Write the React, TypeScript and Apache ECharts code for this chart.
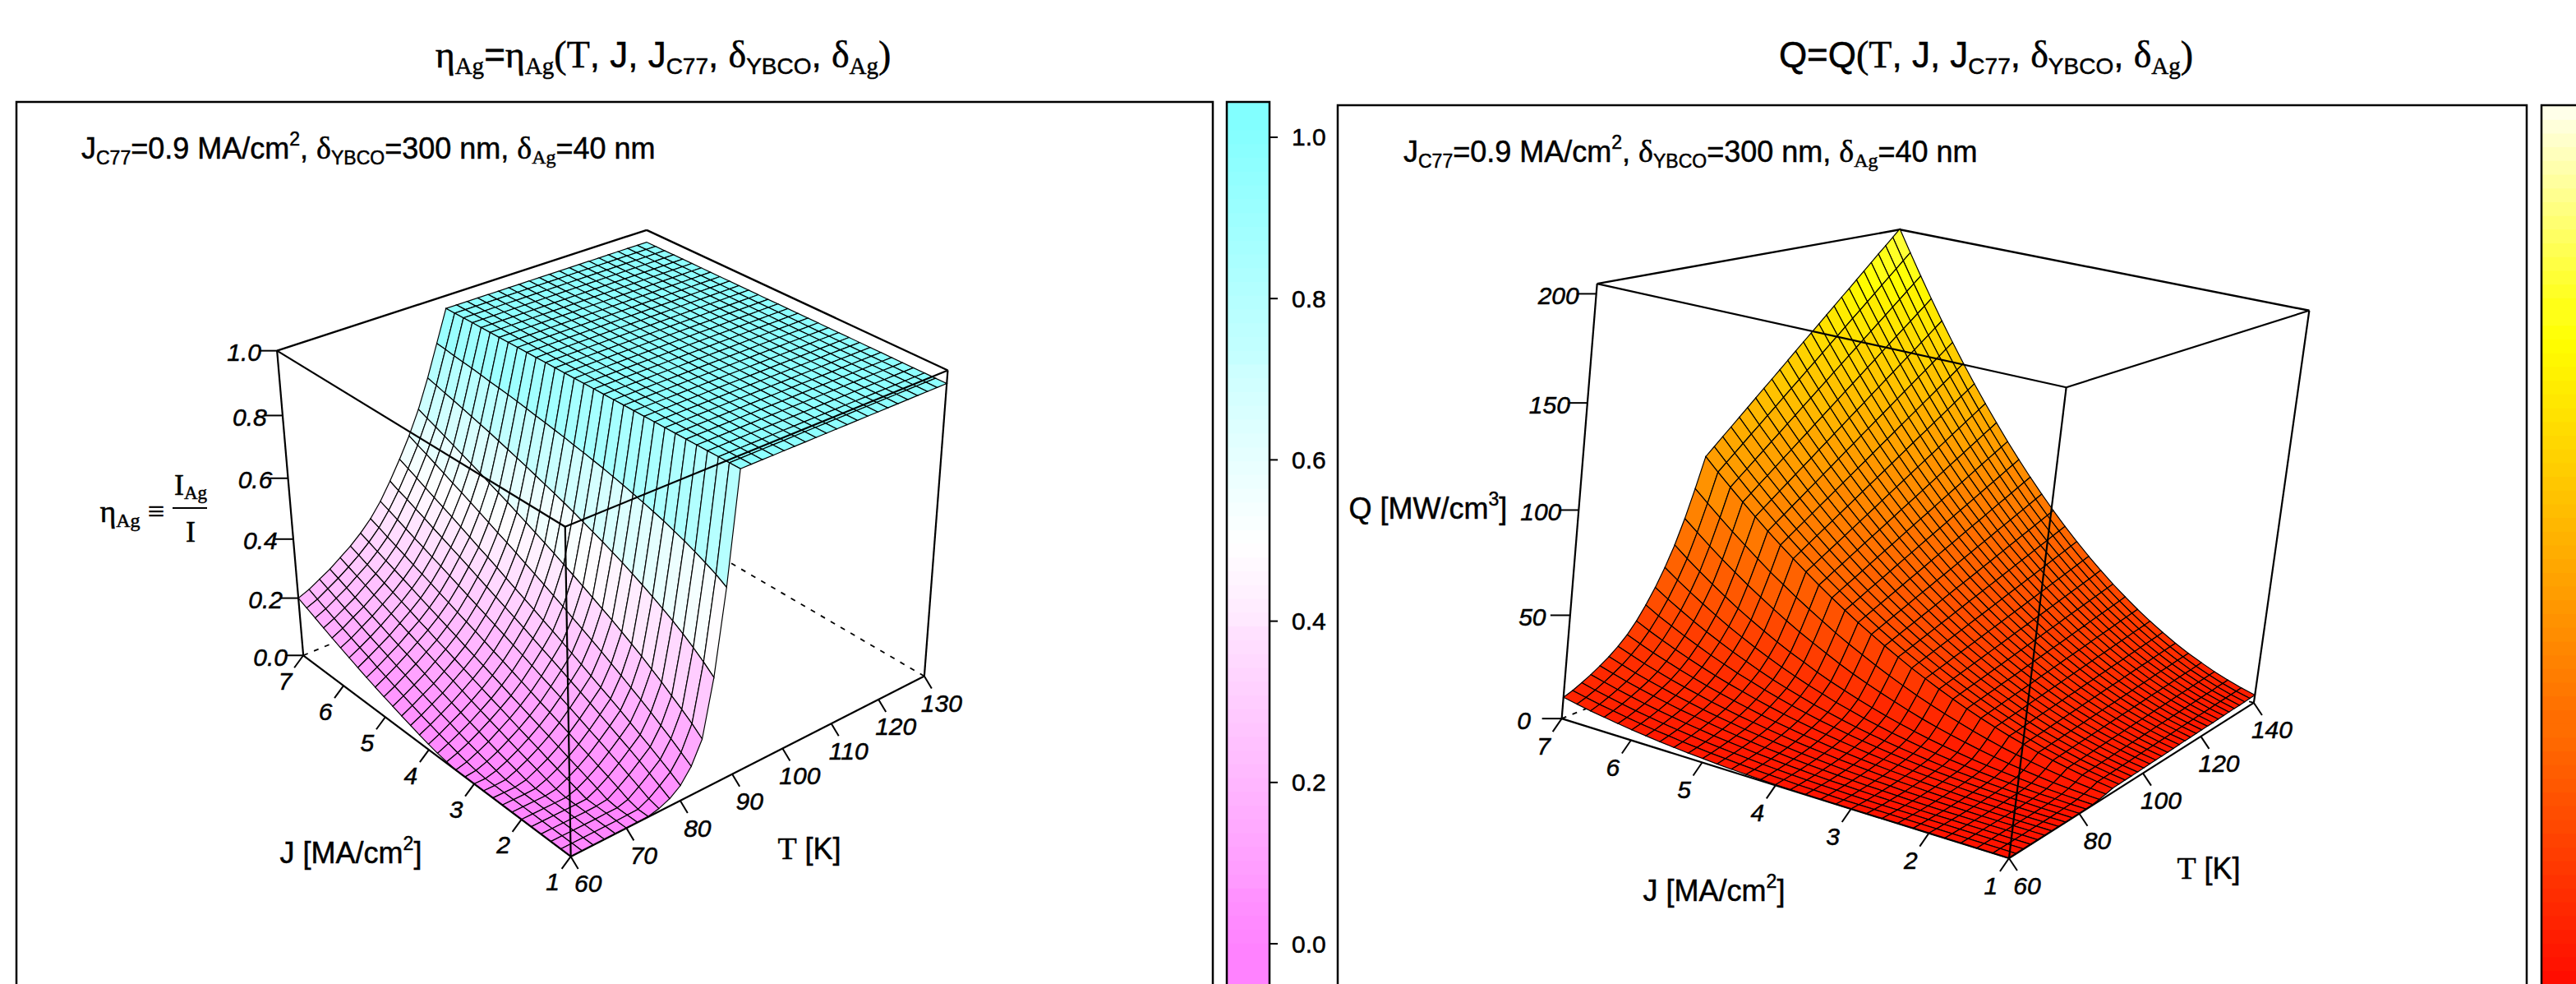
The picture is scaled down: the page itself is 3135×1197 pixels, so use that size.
import React, { useEffect, useRef } from "react";
import * as echarts from "echarts";

const jValues = [1, 1.2, 1.4, 1.6, 1.8, 2, 2.2, 2.4, 2.6, 2.8, 3, 3.2, 3.4, 3.6, 3.8, 4, 4.2, 4.4, 4.6, 4.8, 5, 5.2, 5.4, 5.6, 5.8, 6, 6.2, 6.4, 6.6, 6.8, 7];
const etaTemps = [60, 62, 64, 66, 68, 70, 72, 74, 76, 78, 80, 82, 84, 86, 88, 90, 92, 94, 96, 98, 100, 102, 104, 106, 108, 110, 112, 114, 116, 118, 120, 122, 124, 126, 128, 130];
const qTemps = [60, 62, 64, 66, 68, 70, 72, 74, 76, 78, 80, 82, 84, 86, 88, 90, 92, 94, 96, 98, 100, 102, 104, 106, 108, 110, 112, 114, 116, 118, 120, 122, 124, 126, 128, 130, 132, 134, 136, 138, 140];

// eta above Tc: the flat plateau, T = 90..130
const etaPlateau = [0.96, 0.96, 0.96, 0.96, 0.96, 0.96, 0.96, 0.96, 0.96, 0.96, 0.96, 0.96, 0.96, 0.96, 0.96, 0.96, 0.96, 0.96, 0.96, 0.96, 0.96];
// eta below Tc: one row per J, T = 60..88
const etaLow = [
  [0, 0, 0, 0, 0, 0, .001, .002, .010, .025, .051, .097, .170, .353, .620],
  [0, 0, 0, 0, 0, 0, .001, .002, .019, .044, .072, .120, .198, .381, .640],
  [0, 0, 0, 0, 0, .001, .001, .011, .035, .062, .091, .143, .222, .406, .656],
  [0, 0, 0, 0, 0, .001, .005, .026, .051, .080, .110, .164, .245, .429, .671],
  [0, 0, 0, 0, 0, .001, .018, .040, .067, .097, .128, .185, .268, .450, .685],
  [0, 0, 0, 0, 0, .011, .030, .053, .082, .113, .146, .205, .289, .469, .697],
  [0, 0, 0, 0, .005, .022, .042, .067, .097, .129, .164, .223, .310, .487, .709],
  [0, 0, 0, .001, .014, .032, .054, .080, .111, .145, .181, .242, .329, .504, .719],
  [0, 0, 0, .007, .024, .043, .066, .094, .126, .161, .197, .260, .348, .520, .729],
  [0, 0, .002, .016, .034, .055, .079, .107, .140, .176, .214, .278, .366, .536, .738],
  [0, 0, .009, .025, .044, .066, .091, .120, .154, .191, .231, .295, .383, .550, .747],
  [0, .004, .017, .034, .055, .077, .103, .132, .168, .206, .247, .312, .400, .564, .755],
  [0, .010, .026, .044, .066, .089, .115, .145, .181, .221, .263, .328, .417, .577, .763],
  [.005, .018, .035, .055, .077, .101, .127, .158, .195, .235, .279, .345, .433, .590, .770],
  [.011, .027, .045, .065, .088, .112, .140, .171, .209, .250, .294, .361, .449, .603, .777],
  [.019, .036, .056, .076, .099, .124, .152, .184, .222, .265, .310, .377, .465, .615, .783],
  [.028, .046, .066, .087, .111, .136, .164, .196, .236, .279, .325, .393, .480, .626, .790],
  [.038, .056, .077, .098, .123, .148, .176, .209, .249, .293, .340, .408, .495, .637, .796],
  [.048, .067, .088, .109, .134, .160, .188, .222, .262, .307, .355, .424, .510, .648, .802],
  [.059, .078, .099, .121, .146, .172, .201, .234, .275, .321, .371, .439, .524, .659, .807],
  [.070, .089, .111, .133, .158, .183, .213, .246, .288, .335, .386, .453, .539, .669, .813],
  [.081, .101, .122, .145, .170, .196, .225, .259, .301, .349, .400, .468, .552, .679, .819],
  [.093, .112, .134, .156, .182, .207, .237, .271, .314, .363, .415, .483, .566, .689, .824],
  [.105, .125, .146, .168, .194, .220, .249, .284, .327, .376, .430, .497, .580, .699, .829],
  [.118, .137, .158, .181, .206, .232, .262, .296, .339, .390, .445, .512, .593, .708, .833],
  [.131, .149, .171, .193, .218, .244, .274, .308, .352, .403, .459, .525, .606, .717, .838],
  [.144, .162, .184, .205, .230, .256, .286, .321, .364, .417, .473, .540, .619, .726, .843],
  [.158, .175, .196, .217, .243, .268, .298, .333, .377, .430, .487, .554, .632, .735, .847],
  [.172, .188, .209, .230, .255, .280, .310, .345, .390, .444, .502, .568, .645, .743, .851],
  [.186, .201, .222, .243, .267, .293, .323, .358, .403, .456, .516, .581, .657, .752, .856],
  [.200, .215, .235, .255, .280, .305, .335, .370, .415, .470, .530, .595, .670, .760, .860],
];
// Q: one row per J, T = 60..140
const qRows = [
  [0,0,0,0,0,0,0,0,0,0,.1,.2,.3,.8,1.4,2.2,2.3,2.4,2.4,2.5,2.6,2.7,2.8,2.8,2.9,3.0,3.1,3.2,3.2,3.3,3.4,3.5,3.5,3.6,3.7,3.8,3.9,3.9,4.0,4.1,4.2],
  [0,0,0,0,0,0,0,0,0,.1,.2,.3,.6,1.2,2.0,3.2,3.3,3.4,3.5,3.6,3.7,3.9,4.0,4.1,4.2,4.3,4.4,4.5,4.7,4.8,4.9,5.0,5.1,5.2,5.3,5.5,5.6,5.7,5.8,5.9,6.0],
  [0,0,0,0,0,0,0,0,.1,.2,.3,.6,.9,1.7,2.8,4.3,4.5,4.6,4.8,4.9,5.1,5.3,5.4,5.6,5.7,5.9,6.0,6.2,6.3,6.5,6.6,6.8,7.0,7.1,7.3,7.4,7.6,7.7,7.9,8.0,8.2],
  [0,0,0,0,0,0,0,.1,.2,.4,.5,.8,1.3,2.3,3.8,5.6,5.8,6.0,6.2,6.5,6.7,6.9,7.1,7.3,7.5,7.7,7.9,8.1,8.3,8.5,8.7,8.9,9.1,9.3,9.5,9.7,9.9,10.1,10.3,10.5,10.7],
  [0,0,0,0,0,0,.1,.2,.4,.6,.8,1.2,1.8,3.1,4.9,7.1,7.4,7.7,7.9,8.2,8.4,8.7,8.9,9.2,9.5,9.7,10.0,10.2,10.5,10.7,11.0,11.3,11.5,11.8,12.0,12.3,12.5,12.8,13.0,13.3,13.6],
  [0,0,0,0,0,.1,.2,.3,.6,.8,1.1,1.6,2.4,4.0,6.2,8.8,9.1,9.5,9.8,10.1,10.4,10.7,11.0,11.4,11.7,12.0,12.3,12.6,13.0,13.3,13.6,13.9,14.2,14.5,14.9,15.2,15.5,15.8,16.1,16.4,16.7],
  [0,0,0,0,0,.2,.3,.5,.8,1.1,1.5,2.1,3.1,5.0,7.6,10.7,11.1,11.4,11.8,12.2,12.6,13.0,13.4,13.7,14.1,14.5,14.9,15.3,15.7,16.0,16.4,16.8,17.2,17.6,18.0,18.3,18.7,19.1,19.5,19.9,20.2],
  [0,0,0,0,.1,.3,.5,.8,1.1,1.5,2.0,2.7,3.9,6.2,9.1,12.7,13.1,13.6,14.1,14.5,15.0,15.4,15.9,16.3,16.8,17.2,17.7,18.2,18.6,19.1,19.5,20.0,20.4,20.9,21.4,21.8,22.3,22.7,23.2,23.6,24.1],
  [0,0,0,.1,.2,.4,.7,1.0,1.5,2.0,2.5,3.5,4.8,7.5,10.9,14.9,15.4,16.0,16.5,17.0,17.6,18.1,18.6,19.2,19.7,20.2,20.8,21.3,21.9,22.4,22.9,23.5,24.0,24.5,25.1,25.6,26.1,26.7,27.2,27.7,28.3],
  [0,0,0,.2,.4,.6,1.0,1.4,1.9,2.5,3.1,4.3,5.9,9.0,12.8,17.3,17.9,18.5,19.1,19.8,20.4,21.0,21.6,22.2,22.9,23.5,24.1,24.7,25.4,26.0,26.6,27.2,27.8,28.5,29.1,29.7,30.3,31.0,31.6,32.2,32.8],
  [0,0,.1,.3,.6,.9,1.3,1.8,2.4,3.1,3.9,5.2,7.1,10.6,14.9,19.8,20.6,21.3,22.0,22.7,23.4,24.1,24.8,25.5,26.3,27.0,27.7,28.4,29.1,29.8,30.5,31.2,32.0,32.7,33.4,34.1,34.8,35.5,36.2,36.9,37.7],
  [0,0,.2,.5,.8,1.2,1.6,2.2,3.0,3.8,4.8,6.3,8.4,12.3,17.1,22.6,23.4,24.2,25.0,25.8,26.6,27.4,28.2,29.1,29.9,30.7,31.5,32.3,33.1,33.9,34.7,35.5,36.4,37.2,38.0,38.8,39.6,40.4,41.2,42.0,42.8],
  [0,.1,.4,.7,1.1,1.5,2.1,2.8,3.6,4.6,5.7,7.5,9.9,14.2,19.5,25.5,26.4,27.3,28.2,29.1,30.1,31.0,31.9,32.8,33.7,34.6,35.6,36.5,37.4,38.3,39.2,40.1,41.0,42.0,42.9,43.8,44.7,45.6,46.5,47.5,48.4],
  [.1,.3,.6,.9,1.4,1.9,2.6,3.4,4.3,5.5,6.8,8.8,11.5,16.3,22.0,28.6,29.6,30.6,31.6,32.7,33.7,34.7,35.7,36.8,37.8,38.8,39.8,40.9,41.9,42.9,44.0,45.0,46.0,47.0,48.1,49.1,50.1,51.1,52.2,53.2,54.2],
  [.2,.4,.8,1.2,1.8,2.4,3.1,4.1,5.2,6.5,8.0,10.3,13.3,18.6,24.8,31.8,33.0,34.1,35.3,36.4,37.6,38.7,39.8,41.0,42.1,43.3,44.4,45.6,46.7,47.9,49.0,50.1,51.3,52.4,53.6,54.7,55.9,57.0,58.1,59.3,60.4],
  [.3,.7,1.1,1.6,2.2,2.9,3.8,4.8,6.1,7.6,9.3,11.9,15.3,21.0,27.7,35.3,36.5,37.8,39.1,40.3,41.6,42.9,44.1,45.4,46.7,48.0,49.2,50.5,51.7,53.0,54.3,55.5,56.8,58.1,59.3,60.6,61.9,63.1,64.4,65.7,66.9],
  [.5,.9,1.4,2.0,2.7,3.5,4.5,5.7,7.2,8.9,10.8,13.7,17.4,23.5,30.8,38.9,40.3,41.7,43.1,44.5,45.9,47.3,48.7,50.1,51.5,52.9,54.2,55.6,57.0,58.4,59.8,61.2,62.6,64.0,65.4,66.8,68.2,69.6,71.0,72.4,73.8],
  [.8,1.2,1.8,2.5,3.3,4.2,5.3,6.6,8.3,10.2,12.4,15.5,19.7,26.2,34.1,42.7,44.2,45.7,47.3,48.8,50.3,51.9,53.4,54.9,56.5,58.0,59.5,61.1,62.6,64.1,65.7,67.2,68.7,70.3,71.8,73.3,74.9,76.4,77.9,79.5,81.0],
  [1.1,1.6,2.3,3.0,3.9,5.0,6.2,7.7,9.5,11.7,14.1,17.7,22.1,29.2,37.5,46.6,48.3,50.0,51.7,53.3,55.0,56.7,58.4,60.0,61.7,63.4,65.1,66.8,68.4,70.1,71.8,73.5,75.1,76.8,78.5,80.2,81.8,83.5,85.2,86.9,88.5],
  [1.4,2.1,2.8,3.7,4.7,5.8,7.2,8.8,10.9,13.3,16.1,19.9,24.7,32.4,41.1,50.8,52.6,54.4,56.3,58.1,59.9,61.7,63.6,65.4,67.2,69.0,70.9,72.7,74.5,76.3,78.2,80.0,81.8,83.6,85.5,87.3,89.1,90.9,92.8,94.6,96.4],
  [1.9,2.5,3.4,4.4,5.5,6.7,8.3,10.1,12.4,15.1,18.1,22.3,27.7,35.7,45.0,55.1,57.1,59.1,61.0,63.0,65.0,67.0,69.0,70.9,72.9,74.9,76.9,78.9,80.8,82.8,84.8,86.8,88.8,90.7,92.7,94.7,96.7,98.7,100.6,102.6,104.6],
  [2.3,3.1,4.0,5.1,6.4,7.8,9.4,11.5,14.0,17.0,20.3,24.9,30.6,39.1,49.0,59.6,61.7,63.9,66.0,68.2,70.3,72.5,74.6,76.7,78.9,81.0,83.2,85.3,87.4,89.6,91.7,93.9,96.0,98.2,100.3,102.4,104.6,106.7,108.9,111.0,113.2],
  [2.9,3.7,4.8,6.0,7.4,8.9,10.7,13.0,15.8,19.1,22.7,27.7,33.8,42.8,53.1,64.3,66.6,68.9,71.2,73.5,75.8,78.1,80.4,82.7,85.0,87.4,89.7,92.0,94.3,96.6,98.9,101.2,103.5,105.8,108.1,110.5,112.8,115.1,117.4,119.7,122.0],
  [3.5,4.5,5.6,6.9,8.5,10.1,12.1,14.6,17.6,21.2,25.4,30.7,37.3,46.7,57.5,69.1,71.6,74.1,76.6,79.1,81.5,84.0,86.5,89.0,91.5,94.0,96.4,98.9,101.4,103.9,106.4,108.9,111.4,113.8,116.3,118.8,121.3,123.8,126.3,128.7,131.2],
  [4.2,5.2,6.5,8.0,9.6,11.5,13.7,16.3,19.6,23.6,28.1,33.9,40.9,50.8,61.9,74.1,76.8,79.5,82.1,84.8,87.5,90.1,92.8,95.5,98.1,100.8,103.4,106.1,108.8,111.4,114.1,116.8,119.4,122.1,124.8,127.4,130.1,132.7,135.4,138.1,140.7],
  [5.0,6.1,7.5,9.1,10.9,12.9,15.3,18.2,21.8,26.1,31.1,37.2,44.7,55.0,66.7,79.3,82.2,85.0,87.9,90.7,93.6,96.4,99.3,102.1,105.0,107.9,110.7,113.6,116.4,119.3,122.1,125.0,127.8,130.7,133.5,136.4,139.2,142.1,144.9,147.8,150.6],
  [5.9,7.1,8.6,10.3,12.3,14.5,17.0,20.2,24.1,28.9,34.2,40.9,48.8,59.5,71.7,84.7,87.8,90.8,93.9,96.9,100.0,103.0,106.0,109.1,112.1,115.2,118.2,121.3,124.3,127.3,130.4,133.4,136.5,139.5,142.6,145.6,148.6,151.7,154.7,157.8,160.8],
  [6.9,8.2,9.8,11.7,13.8,16.1,18.9,22.4,26.6,31.7,37.5,44.7,53.1,64.1,76.7,90.3,93.5,96.8,100.0,103.3,106.5,109.7,113.0,116.2,119.5,122.7,126.0,129.2,132.5,135.7,138.9,142.2,145.4,148.7,151.9,155.2,158.4,161.6,164.9,168.1,171.4],
  [7.9,9.3,11.1,13.1,15.4,17.9,20.9,24.6,29.2,34.8,41.1,48.7,57.6,69.0,82.0,96.0,99.5,102.9,106.4,109.8,113.3,116.7,120.2,123.6,127.1,130.5,134.0,137.4,140.9,144.3,147.8,151.2,154.7,158.1,161.6,165.0,168.5,171.9,175.4,178.8,182.3],
  [9.1,10.6,12.5,14.7,17.2,19.9,23.2,27.1,32.0,37.9,44.8,52.9,62.3,74.1,87.5,101.9,105.6,109.2,112.9,116.6,120.2,123.9,127.5,131.2,134.9,138.5,142.2,145.8,149.5,153.2,156.8,160.5,164.2,167.8,171.5,175.1,178.8,182.5,186.1,189.8,193.5],
  [10.4,12.0,14.1,16.4,19.1,22.0,25.5,29.7,35.0,41.5,48.8,57.4,67.3,79.3,93.1,108.0,111.9,115.8,119.6,123.5,127.4,131.3,135.2,139.0,142.9,146.8,150.7,154.6,158.4,162.3,166.2,170.1,174.0,177.8,181.7,185.6,189.5,193.4,197.2,201.1,205.0],
];

const jTicks = [1, 2, 3, 4, 5, 6, 7];
const etaTTicks = [60, 70, 80, 90, 100, 110, 120, 130];
const qTTicks = [60, 80, 100, 120, 140];
const etaZTicks = [0, 0.2, 0.4, 0.6, 0.8, 1];
const qZTicks = [0, 50, 100, 150, 200];
const barTicks = [0, 0.2, 0.4, 0.6, 0.8, 1];

const SANS = "'Liberation Sans', Arial, sans-serif";
const SERIF = "'Liberation Serif', 'Times New Roman', serif";
const BANDS = 64;

type Corner = [number, number, number, number, number];

// Perspective calibration: box corners (u = T, v = J, w = z, all 0..1) to their place on the page.
function fitCamera(corners: Corner[]) {
  const rows: number[][] = [];
  const rhs: number[] = [];
  for (const [u, v, w, px, py] of corners) {
    const x = px / 1000, y = py / 1000;
    rows.push([u, v, w, 1, 0, 0, 0, 0, -x * u, -x * v, -x * w]); rhs.push(x);
    rows.push([0, 0, 0, 0, u, v, w, 1, -y * u, -y * v, -y * w]); rhs.push(y);
  }
  const n = 11;
  const M: number[][] = [];
  for (let i = 0; i < n; i++) {
    const r = new Array(n + 1).fill(0);
    rows.forEach((row, k) => {
      for (let j = 0; j < n; j++) r[j] += row[i] * row[j];
      r[n] += row[i] * rhs[k];
    });
    M.push(r);
  }
  for (let c = 0; c < n; c++) {
    let best = c;
    for (let r = c + 1; r < n; r++) if (Math.abs(M[r][c]) > Math.abs(M[best][c])) best = r;
    [M[c], M[best]] = [M[best], M[c]];
    for (let r = 0; r < n; r++) {
      if (r === c) continue;
      const f = M[r][c] / M[c][c];
      for (let j = c; j <= n; j++) M[r][j] -= f * M[c][j];
    }
  }
  const p = M.map((r, i) => r[n] / r[i]);
  return (u: number, v: number, w: number): [number, number] => {
    const d = 1 + p[8] * u + p[9] * v + p[10] * w;
    return [
      (1000 * (p[0] * u + p[1] * v + p[2] * w + p[3])) / d,
      (1000 * (p[4] * u + p[5] * v + p[6] * w + p[7])) / d,
    ];
  };
}

const etaCam = fitCamera([
  [0, 0, 0, 693, 1043], [0, 1, 0, 368, 795], [1, 0, 0, 1124, 821], [1, 1, 0, 789, 627],
  [0, 0, 1, 690, 642], [0, 1, 1, 338, 427], [1, 0, 1, 1154, 450], [1, 1, 1, 784, 279],
]);
const qCam = fitCamera([
  [0, 0, 0, 2445, 1041], [0, 1, 0, 1900, 878], [1, 0, 0, 2742, 859], [1, 1, 0, 2266, 721],
  [0, 0, 1, 2515, 469], [0, 1, 1, 1944, 346], [1, 0, 1, 2811, 378], [1, 1, 1, 2311, 280],
]);

const quant = (t: number) => (Math.min(BANDS - 1, Math.max(0, Math.floor(t * BANDS))) + 0.5) / BANDS;
const cmAt = (t: number) => {
  if (t < 0.5) return `rgb(255,${Math.round(128 + 127 * (t / 0.5))},255)`;
  return `rgb(${Math.round(128 + 127 * ((1 - t) / 0.5))},255,255)`;
};
const heatAt = (t: number) => {
  if (t < 0.75) return `rgb(255,${Math.round((255 * t) / 0.75)},0)`;
  return `rgb(255,255,${Math.round((240 * (t - 0.75)) / 0.25)})`;
};
const etaColor = (v: number) => cmAt(quant((v + 0.02) / 1.04));
const qColor = (v: number) => heatAt(quant(0.06 + 0.0038 * v));

function surfaceSeries(cam: any, temps: number[], table: number[][], zTop: number, colorOf: (v: number) => string) {
  const tMin = temps[0], tSpan = temps[temps.length - 1] - temps[0];
  const pt = (i: number, j: number) =>
    cam((temps[i] - tMin) / tSpan, (jValues[j] - 1) / 6, table[j][i] / zTop);
  const cells: number[][] = [];
  for (let j = jValues.length - 2; j >= 0; j--)
    for (let i = temps.length - 2; i >= 0; i--) cells.push([i, j]);
  return {
    type: "custom", coordinateSystem: "none", z: 2, silent: true, progressive: 0, data: cells,
    renderItem: (_: any, api: any) => {
      const i = api.value(0), j = api.value(1);
      const avg = (table[j][i] + table[j][i + 1] + table[j + 1][i] + table[j + 1][i + 1]) / 4;
      return {
        type: "polygon",
        shape: { points: [pt(i, j), pt(i + 1, j), pt(i + 1, j + 1), pt(i, j + 1)] },
        style: { fill: colorOf(avg), stroke: "#000", lineWidth: 1.2 },
      };
    },
  };
}

// Box edges as pairs of corners in (u, v, w)
const backEdges = [[0, 1, 1, 1, 1, 1], [1, 1, 1, 1, 0, 1]];
const hiddenEdges = [[0, 1, 0, 1, 1, 0], [1, 0, 0, 1, 1, 0]];
const frontEdges = [[0, 0, 0, 0, 1, 0], [0, 0, 0, 1, 0, 0], [0, 0, 0, 0, 0, 1], [0, 1, 0, 0, 1, 1], [1, 0, 0, 1, 0, 1], [0, 1, 1, 0, 0, 1], [0, 0, 1, 1, 0, 1]];

function edgeSeries(cam: any, edges: number[][], z: number, lineWidth: number, lineDash?: number[]) {
  return {
    type: "custom", coordinateSystem: "none", z, silent: true, data: edges.map((_, i) => [i]),
    renderItem: (_: any, api: any) => {
      const e = edges[api.value(0)];
      const a = cam(e[0], e[1], e[2]), b = cam(e[3], e[4], e[5]);
      return {
        type: "line",
        shape: { x1: a[0], y1: a[1], x2: b[0], y2: b[1] },
        style: { stroke: "#000", lineWidth, lineDash, fill: "none" },
      };
    },
  };
}

function tickSeries(cam: any, values: number[], labels: string[], where: (v: number) => [number, number, number], tick: number[], label: number[]) {
  return {
    type: "custom", coordinateSystem: "none", z: 5, silent: true, data: values.map((_, i) => [i]),
    renderItem: (_: any, api: any) => {
      const i = api.value(0);
      const w = where(values[i]);
      const p = cam(w[0], w[1], w[2]);
      return {
        type: "group",
        children: [
          { type: "line", shape: { x1: p[0], y1: p[1], x2: p[0] + tick[0], y2: p[1] + tick[1] }, style: { stroke: "#000", lineWidth: 2, fill: "none" } },
          {
            type: "text",
            style: {
              text: labels[i], x: p[0] + label[0], y: p[1] + label[1], fill: "#000",
              stroke: "#000", lineWidth: 0.5,
              fontFamily: SANS, fontStyle: "italic", fontSize: 30,
              align: "center", verticalAlign: "middle", textAlign: "center", textVerticalAlign: "middle",
            },
          },
        ],
      };
    },
  };
}

function barSeries(xAxisIndex: number, yAxisIndex: number, lo: number, hi: number, colorOf: (v: number) => string) {
  const data: number[][] = [];
  const step = (hi - lo) / BANDS;
  for (let k = 0; k < BANDS; k++) data.push([lo + k * step, lo + (k + 1) * step]);
  return {
    type: "custom", coordinateSystem: "cartesian2d", xAxisIndex, yAxisIndex, z: 2, silent: true, clip: false, data,
    renderItem: (_: any, api: any) => {
      const a = api.coord([0, api.value(1)]), b = api.coord([1, api.value(0)]);
      return {
        type: "rect",
        shape: { x: a[0], y: a[1], width: b[0] - a[0], height: b[1] - a[1] + 1 },
        style: { fill: colorOf((api.value(0) + api.value(1)) / 2) },
      };
    },
  };
}

// Colour-bar tick marks, placed by the bar's own value axis
const barTickSeries = {
  type: "custom", coordinateSystem: "cartesian2d", xAxisIndex: 0, yAxisIndex: 0, z: 7, silent: true, clip: false,
  data: barTicks.map((v) => [1, v]),
  renderItem: (_: any, api: any) => {
    const p = api.coord([1, api.value(1)]);
    return {
      type: "line",
      shape: { x1: p[0], y1: p[1], x2: p[0] + 10, y2: p[1] },
      style: { stroke: "#000", lineWidth: 2, fill: "none" },
    };
  },
};

const richFor = (size: number, lh: number) => {
  const ink = { fill: "#000", color: "#000", stroke: "#000", lineWidth: 0.5 };
  const base = { ...ink, lineHeight: lh, verticalAlign: "middle" };
  const small = Math.round(size * 0.64);
  return {
    n: { ...base, fontFamily: SANS, fontSize: size },
    g: { ...base, fontFamily: SERIF, fontSize: size + 2 },
    sub: { ...ink, lineHeight: lh, verticalAlign: "bottom", fontFamily: SANS, fontSize: small },
    subg: { ...ink, lineHeight: lh, verticalAlign: "bottom", fontFamily: SERIF, fontSize: small + 1 },
    sup: { ...ink, lineHeight: lh, verticalAlign: "top", fontFamily: SANS, fontSize: small },
  };
};
const richText = (text: string, x: number, y: number, size: number, lh: number, align = "center") => ({
  type: "text", z: 20, silent: true,
  style: {
    text, x, y, rich: richFor(size, lh), fontFamily: SANS, fontSize: size, fill: "#000",
    align, verticalAlign: "middle", textAlign: align, textVerticalAlign: "middle",
  },
});
const frame = (x: number, y: number, width: number, height: number, lineWidth = 2.5) => ({
  type: "rect", z: 20, silent: true, shape: { x, y, width, height },
  style: { fill: "none", stroke: "#000", lineWidth },
});

const conditions = "{n|J}{sub|C77}{n|=0.9 MA/cm}{sup|2}{n|, }{g|δ}{sub|YBCO}{n|=300 nm, }{g|δ}{subg|Ag}{n|=40 nm}";
const argList = "{g|(T}{n|, J, J}{sub|C77}{n|, }{g|δ}{sub|YBCO}{n|, }{g|δ}{subg|Ag}{g|)}";

export default function App() {
  const ref = useRef<HTMLDivElement>(null);
  useEffect(() => {
    document.body.style.margin = "0";
    const chart = echarts.init(ref.current!, undefined, { renderer: "svg" });
    const etaTable = etaLow.map((r) => [...r, ...etaPlateau]);
    const etaWhereJ = (v: number): [number, number, number] => [0, (v - 1) / 6, 0];
    const etaWhereT = (v: number): [number, number, number] => [(v - 60) / 70, 0, 0];
    const qWhereT = (v: number): [number, number, number] => [(v - 60) / 80, 0, 0];
    chart.setOption({
      animation: false,
      backgroundColor: "#fff",
      grid: [
        { left: 1493, top: 124, width: 52, height: 1073, show: false },
        { left: 3093, top: 128, width: 42, height: 1069, show: false },
      ],
      xAxis: [
        { type: "value", gridIndex: 0, min: 0, max: 1, show: false },
        { type: "value", gridIndex: 1, min: 0, max: 1, show: false },
      ],
      yAxis: [
        {
          type: "value", gridIndex: 0, position: "right", min: -0.0499, max: 1.0438, z: 6,
          splitLine: { show: false },
          axisLine: { show: true, lineStyle: { color: "#000", width: 2 } },
          axisTick: { show: false },
          axisLabel: {
            show: true, customValues: barTicks, margin: 27, fontFamily: SANS, fontSize: 30, color: "#000",
            textBorderColor: "#000", textBorderWidth: 0.5, formatter: (v: number) => v.toFixed(1),
          },
        },
        { type: "value", gridIndex: 1, position: "right", min: -7.1, max: 247.4, show: false },
      ],
      graphic: [
        frame(20, 124, 1456, 1200),
        frame(1628, 128, 1447, 1200),
        frame(1493, 124, 52, 1200),
        frame(3093, 128, 100, 1200),
        richText(`{g|η}{subg|Ag}{n|=}{g|η}{subg|Ag}${argList}`, 807, 66, 44, 56),
        richText(`{n|Q=Q}${argList}`, 2417, 66, 44, 56),
        richText(conditions, 99, 180, 36, 46, "left"),
        richText(conditions, 1708, 184, 36, 46, "left"),
        richText("{n|J [MA/cm}{sup|2}{n|]}", 427, 1037, 36, 46),
        richText("{g|T}{n| [K]}", 985, 1032, 36, 46),
        richText("{g|η}{subg|Ag}", 146, 622, 36, 46),
        richText("{g|≡}", 190, 622, 34, 42),
        richText("{g|I}{subg|Ag}", 232, 590, 34, 42),
        { type: "line", z: 20, silent: true, shape: { x1: 210, y1: 618, x2: 252, y2: 618 }, style: { stroke: "#000", lineWidth: 2 } },
        richText("{g|I}", 232, 647, 34, 42),
        richText("{n|Q [MW/cm}{sup|3}{n|]}", 1738, 618, 36, 46),
        richText("{n|J [MA/cm}{sup|2}{n|]}", 2086, 1083, 36, 46),
        richText("{g|T}{n| [K]}", 2688, 1056, 36, 46),
      ],
      series: [
        barSeries(0, 0, -0.0499, 1.0438, etaColor),
        barSeries(1, 1, -7.1, 247.4, qColor),
        barTickSeries,
        edgeSeries(etaCam, backEdges, 1, 2.4),
        edgeSeries(etaCam, hiddenEdges, 1, 1.8, [6, 8]),
        surfaceSeries(etaCam, etaTemps, etaTable, 1, etaColor),
        edgeSeries(etaCam, frontEdges, 3, 2.2),
        tickSeries(etaCam, jTicks, jTicks.map(String), etaWhereJ, [-11, 15], [-22, 31]),
        tickSeries(etaCam, etaTTicks, etaTTicks.map(String), etaWhereT, [9, 15], [21, 33]),
        tickSeries(etaCam, etaZTicks, etaZTicks.map((v) => v.toFixed(1)), (v) => [0, 1, v], [-22, 0], [-40, 2]),
        edgeSeries(qCam, backEdges, 1, 2.4),
        edgeSeries(qCam, hiddenEdges, 1, 1.8, [6, 8]),
        surfaceSeries(qCam, qTemps, qRows, 204.6, qColor),
        edgeSeries(qCam, frontEdges, 3, 2.2),
        tickSeries(qCam, jTicks, jTicks.map(String), etaWhereJ, [-11, 16], [-22, 33]),
        tickSeries(qCam, qTTicks, qTTicks.map(String), qWhereT, [10, 15], [22, 33]),
        tickSeries(qCam, qZTicks, qZTicks.map(String), (v) => [0, 1, v / 204.6], [-24, 0], [-46, 2]),
      ],
    });
    return () => chart.dispose();
  }, []);
  return (
    <div style={{ position: "fixed", left: 0, top: 0, width: 3135, height: 1197, overflow: "hidden", background: "#fff" }}>
      <div ref={ref} style={{ width: 3135, height: 1197 }} />
    </div>
  );
}
